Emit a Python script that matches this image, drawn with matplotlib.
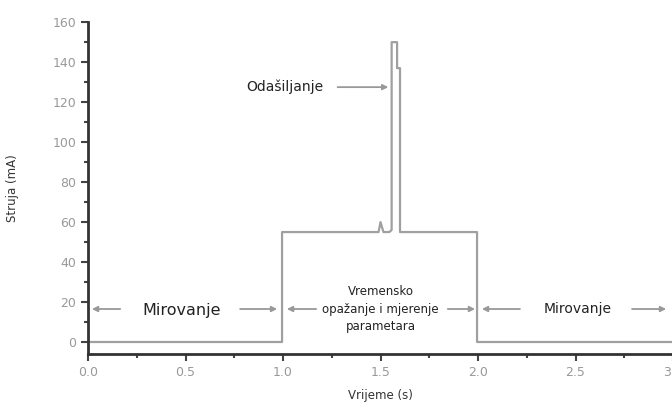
import matplotlib.pyplot as plt
from matplotlib.ticker import MultipleLocator

# current trace (time s, current mA)
vrijeme = [0.0, 0.995, 0.995, 1.49, 1.50, 1.515, 1.545, 1.557, 1.557, 1.585, 1.585, 1.600, 1.600, 1.995, 1.995, 3.0]
struja = [0.0, 0.0, 55.0, 55.0, 60.0, 55.0, 55.0, 56.0, 150.0, 150.0, 137.0, 137.0, 55.0, 55.0, 0.0, 0.0]

x_ticks = [0.0, 0.5, 1.0, 1.5, 2.0, 2.5, 3.0]
y_ticks = [0, 20, 40, 60, 80, 100, 120, 140, 160]

fig = plt.figure(figsize=(6.72, 4.03), dpi=100)
fig.patch.set_facecolor('white')
ax = fig.add_axes([0.131, 0.1216, 0.8705, 0.8234])

ax.plot(vrijeme, struja, color='#a0a0a0', lw=1.6, solid_joinstyle='round')

ax.set_xlim(0, 3.0)
ax.set_ylim(-6, 160)
ax.set_xticks(x_ticks)
ax.set_yticks(y_ticks)
ax.xaxis.set_minor_locator(MultipleLocator(0.25))
ax.yaxis.set_minor_locator(MultipleLocator(10))
ax.set_xticklabels([f"{v:.1f}" for v in x_ticks])
ax.tick_params(axis='both', which='major', direction='out', length=5, width=1.5,
               color='#444444', labelcolor='#999999', labelsize=9)
ax.tick_params(axis='both', which='minor', direction='out', length=3, width=1.5, color='#444444')

for s in ['top', 'right']:
    ax.spines[s].set_visible(False)
for s in ['left', 'bottom']:
    ax.spines[s].set_color('#333333')
    ax.spines[s].set_linewidth(2)

ax.set_ylabel('Struja (mA)', fontsize=8.5, color='#333333', labelpad=24)
ax.set_xlabel('Vrijeme (s)', fontsize=8.5, color='#333333', labelpad=7)

arrow = dict(arrowstyle='-|>', color='#999999', lw=1.3, mutation_scale=8, shrinkA=0, shrinkB=0)

# Odasiljanje
ax.text(1.01, 127.5, 'Odašiljanje', ha='center', va='center', fontsize=10, color='#222222')
ax.annotate('', xy=(1.54, 127.5), xytext=(1.28, 127.5), arrowprops=arrow)

# left Mirovanje
ax.text(0.48, 16, 'Mirovanje', ha='center', va='center', fontsize=11.5, color='#222222')
ax.annotate('', xy=(0.02, 16.5), xytext=(0.165, 16.5), arrowprops=arrow)
ax.annotate('', xy=(0.97, 16.5), xytext=(0.78, 16.5), arrowprops=arrow)

# middle
ax.text(1.5, 16.5, 'Vremensko\nopažanje i mjerenje\nparametara', ha='center', va='center',
        fontsize=8.5, color='#222222', linespacing=1.45)
ax.annotate('', xy=(1.02, 16.5), xytext=(1.17, 16.5), arrowprops=arrow)
ax.annotate('', xy=(1.985, 16.5), xytext=(1.845, 16.5), arrowprops=arrow)

# right Mirovanje
ax.text(2.51, 16.5, 'Mirovanje', ha='center', va='center', fontsize=10, color='#222222')
ax.annotate('', xy=(2.02, 16.5), xytext=(2.215, 16.5), arrowprops=arrow)
ax.annotate('', xy=(2.965, 16.5), xytext=(2.79, 16.5), arrowprops=arrow)

fig.savefig('out.png', dpi=100, facecolor='white')
